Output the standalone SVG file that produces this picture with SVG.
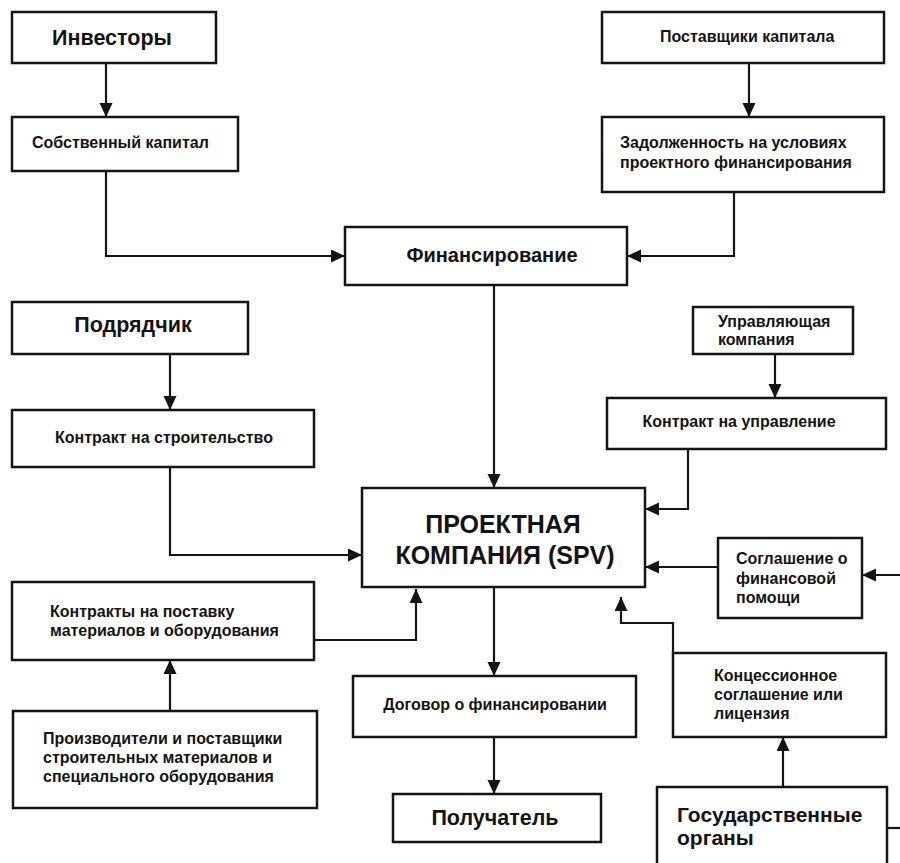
<svg xmlns="http://www.w3.org/2000/svg" width="900" height="863" viewBox="0 0 900 863">
  <style>
    .box { fill: #ffffff; stroke: #141414; stroke-width: 2.5; }
    .wire { fill: none; stroke: #141414; stroke-width: 2.2; }
    text { font-family: "Liberation Sans", Arial, sans-serif; font-weight: bold; fill: #141414; }
    .s { font-size: 16px; }
    .m { font-size: 20px; }
    .l { font-size: 21.5px; }
    .g { font-size: 21px; }
    .xl { font-size: 25px; }
    .c { text-anchor: middle; }
  </style>
  <defs>
    <marker id="arrow" markerUnits="userSpaceOnUse" markerWidth="15" markerHeight="14" refX="14" refY="6.5" orient="auto">
      <path d="M0,0 L14,6.5 L0,13 z" fill="#141414"/>
    </marker>
  </defs>

  <rect width="900" height="863" fill="#ffffff"/>

  <!-- connectors -->
  <g id="connectors" marker-end="url(#arrow)">
    <path class="wire" d="M106,63 V117"/>
    <path class="wire" d="M749,63 V117"/>
    <path class="wire" d="M106,171 V256 H345"/>
    <path class="wire" d="M734,192 V256 H627"/>
    <path class="wire" d="M494,285 V488"/>
    <path class="wire" d="M170,354 V410"/>
    <path class="wire" d="M170,467 V555 H362"/>
    <path class="wire" d="M775,354 V398"/>
    <path class="wire" d="M688,449 V509 H645"/>
    <path class="wire" d="M718,567 H645"/>
    <path class="wire" d="M900,575 H862"/>
    <path class="wire" d="M314,640 H416 V589"/>
    <path class="wire" d="M170,711 V660"/>
    <path class="wire" d="M494,587 V676"/>
    <path class="wire" d="M494,737 V794"/>
    <path class="wire" d="M673,653 V623 H621 V597"/>
    <path class="wire" d="M783,787 V737"/>
    <path class="wire" d="M887,828 H900" marker-end="none"/>
  </g>

  <!-- nodes -->
  <g id="investors">
    <rect class="box" x="12" y="12" width="204" height="51"/>
    <text class="l c" x="112" y="45">Инвесторы</text>
  </g>
  <g id="equity">
    <rect class="box" x="12" y="117" width="226" height="54"/>
    <text class="s" x="32" y="148">Собственный капитал</text>
  </g>
  <g id="capital-providers">
    <rect class="box" x="602" y="12" width="282" height="51"/>
    <text class="s" x="660" y="42">Поставщики капитала</text>
  </g>
  <g id="project-debt">
    <rect class="box" x="602" y="117" width="282" height="75"/>
    <text class="s" x="620" y="148">Задолженность на условиях</text>
    <text class="s" x="620" y="168">проектного финансирования</text>
  </g>
  <g id="financing">
    <rect class="box" x="345" y="227" width="282" height="58"/>
    <text class="m c" x="492" y="262">Финансирование</text>
  </g>
  <g id="contractor">
    <rect class="box" x="12" y="302" width="236" height="52"/>
    <text class="l c" x="133" y="332">Подрядчик</text>
  </g>
  <g id="construction-contract">
    <rect class="box" x="12" y="410" width="302" height="57"/>
    <text class="s c" x="164" y="443">Контракт на строительство</text>
  </g>
  <g id="operator">
    <rect class="box" x="693" y="307" width="160" height="47"/>
    <text class="s" x="718" y="327">Управляющая</text>
    <text class="s" x="718" y="345">компания</text>
  </g>
  <g id="om-contract">
    <rect class="box" x="607" y="398" width="279" height="51"/>
    <text class="s c" x="739" y="427">Контракт на управление</text>
  </g>
  <g id="spv">
    <rect class="box" x="362" y="488" width="283" height="99"/>
    <text class="xl c" x="503" y="533">ПРОЕКТНАЯ</text>
    <text class="xl c" x="505" y="564">КОМПАНИЯ (SPV)</text>
  </g>
  <g id="support-agreement">
    <rect class="box" x="718" y="538" width="144" height="80"/>
    <text class="s" x="736" y="564">Соглашение о</text>
    <text class="s" x="736" y="584">финансовой</text>
    <text class="s" x="736" y="603">помощи</text>
  </g>
  <g id="supply-contracts">
    <rect class="box" x="12" y="582" width="302" height="78"/>
    <text class="s" x="50" y="617">Контракты на поставку</text>
    <text class="s" x="50" y="636">материалов и оборудования</text>
  </g>
  <g id="suppliers">
    <rect class="box" x="13" y="711" width="304" height="97"/>
    <text class="s" x="43" y="744">Производители и поставщики</text>
    <text class="s" x="43" y="763">строительных материалов и</text>
    <text class="s" x="43" y="782">специального оборудования</text>
  </g>
  <g id="loan-agreement">
    <rect class="box" x="353" y="676" width="283" height="61"/>
    <text class="s c" x="495" y="710">Договор о финансировании</text>
  </g>
  <g id="recipient">
    <rect class="box" x="393" y="794" width="208" height="48"/>
    <text class="l c" x="495" y="825">Получатель</text>
  </g>
  <g id="concession">
    <rect class="box" x="673" y="653" width="213" height="84"/>
    <text class="s" x="714" y="681">Концессионное</text>
    <text class="s" x="714" y="700">соглашение или</text>
    <text class="s" x="714" y="719">лицензия</text>
  </g>
  <g id="government">
    <rect class="box" x="657" y="787" width="230" height="90"/>
    <text class="g" x="677" y="822">Государственные</text>
    <text class="g" x="677" y="845">органы</text>
  </g>
</svg>
